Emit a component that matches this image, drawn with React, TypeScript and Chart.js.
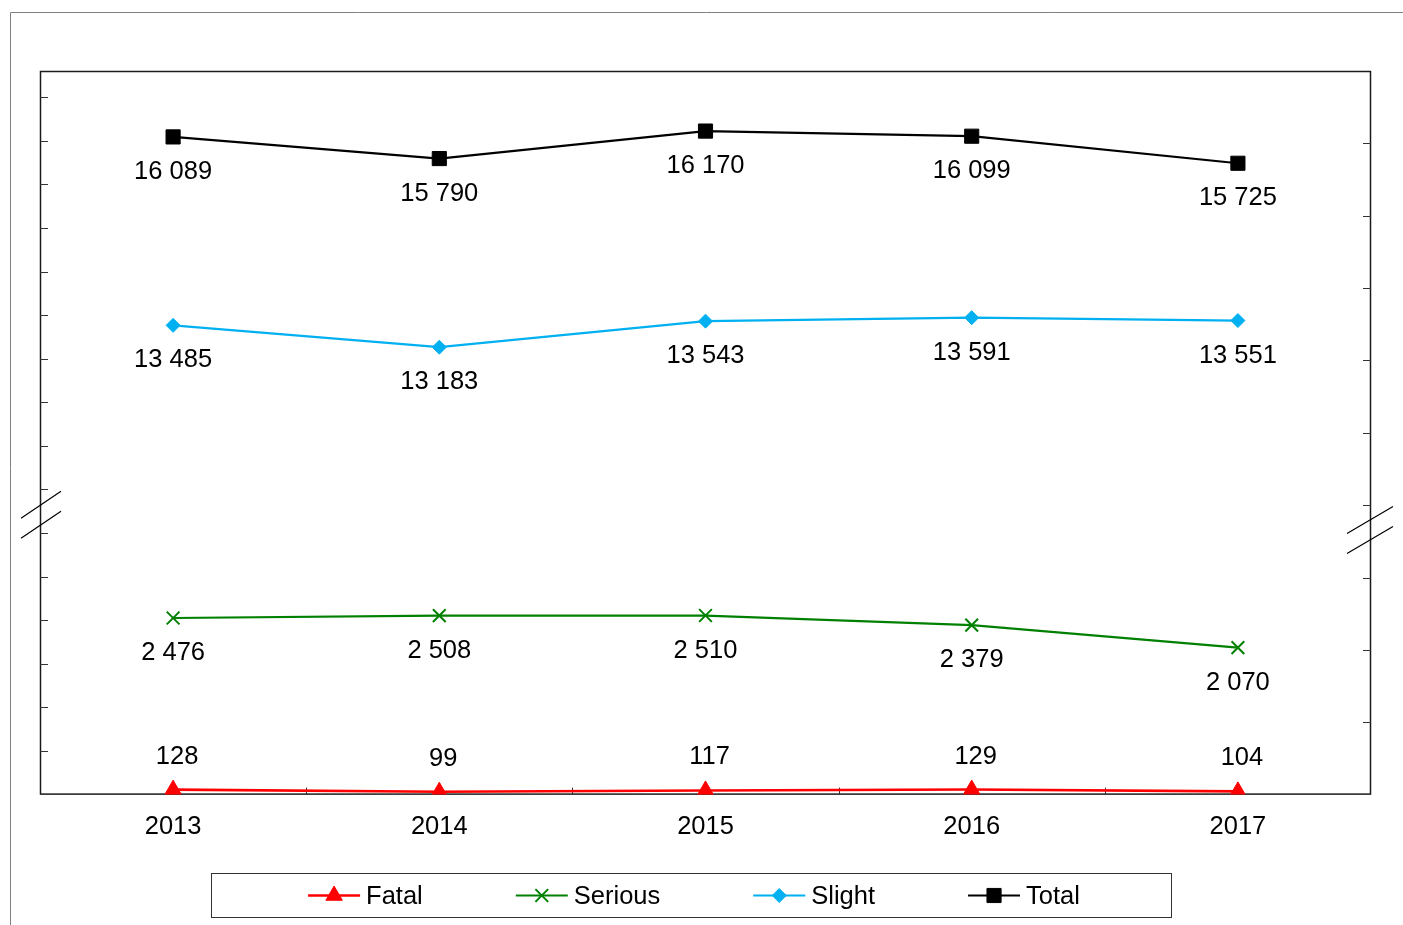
import React, { useEffect, useRef } from 'react';
import { Chart, registerables, PointElement } from 'chart.js';

Chart.register(...registerables);

const FONT = '"Liberation Sans", Arial, sans-serif';
const FONT_SIZE = 25.5;

// ---- data ----
const years = ['2013', '2014', '2015', '2016', '2017'];
const fatal = [128, 99, 117, 129, 104];
const serious = [2476, 2508, 2510, 2379, 2070];
const slight = [13485, 13183, 13543, 13591, 13551];
const total = [16089, 15790, 16170, 16099, 15725];
const seriesLabels = ['Fatal', 'Serious', 'Slight', 'Total'];

// ---- broken axis set-up (scale ranges) ----
const lowerRange = [60, 9960]; // band for Fatal / Serious
const upperRange = [7000, 17000]; // band for Slight / Total
const leftTickRange = [0, 16.6];
const leftTickValues = [1, 2, 3, 4, 5, 6, 7, 8, 9, 10, 11, 12, 13, 14, 15, 16];
const rightTickValues = [8000, 9000, 10000, 11000, 12000, 13000, 14000, 15000, 16000];
const breakLeftValue = 10860;
const breakRightValue = 10665;

const fmt = (v: number) => String(v).replace(/\B(?=(\d{3})+(?!\d))/g, ' ');

const decorPlugin = {
  id: 'decor',
  beforeDatasetsDraw(chart: any) {
    const { ctx, chartArea: a, width, height } = chart;
    ctx.save();
    // outer frame
    ctx.strokeStyle = '#808080';
    ctx.lineWidth = 1;
    ctx.beginPath();
    ctx.moveTo(10.5, height);
    ctx.lineTo(10.5, 12.5);
    ctx.lineTo(width, 12.5);
    ctx.stroke();
    // plot border
    ctx.strokeStyle = '#1a1a1a';
    ctx.lineWidth = 1.5;
    ctx.strokeRect(a.left + 0.5, a.top + 0.5, a.right - a.left - 1, a.bottom - a.top - 1);
    // inward tick marks
    ctx.lineWidth = 1;
    ctx.strokeStyle = '#333';
    const yL = chart.scales.yL;
    const yU = chart.scales.yUp;
    const xs = chart.scales.x;
    ctx.beginPath();
    leftTickValues.forEach((v) => {
      const y = Math.round(yL.getPixelForValue(v)) + 0.5;
      ctx.moveTo(a.left, y);
      ctx.lineTo(a.left + 8, y);
    });
    rightTickValues.forEach((v) => {
      const y = Math.round(yU.getPixelForValue(v)) + 0.5;
      ctx.moveTo(a.right - 8, y);
      ctx.lineTo(a.right, y);
    });
    for (let i = 0; i < years.length - 1; i++) {
      const x = Math.round((xs.getPixelForValue(i) + xs.getPixelForValue(i + 1)) / 2) + 0.5;
      ctx.moveTo(x, a.bottom);
      ctx.lineTo(x, a.bottom - 7);
    }
    ctx.stroke();
    ctx.restore();
  },
  afterDatasetsDraw(chart: any) {
    const { ctx } = chart;
    ctx.save();
    ctx.font = `${FONT_SIZE}px ${FONT}`;
    ctx.fillStyle = '#000';
    ctx.textAlign = 'center';
    ctx.textBaseline = 'middle';
    chart.data.datasets.forEach((ds: any, di: number) => {
      const meta = chart.getDatasetMeta(di);
      const above = ds.label === 'Fatal';
      meta.data.forEach((pt: any, j: number) => {
        const v = ds.rawValues[j];
        const x = pt.x + (above ? 4 : 0);
        const y = pt.y + (above ? -33 : 35);
        ctx.fillText(fmt(v), x, y);
      });
    });
    ctx.restore();
  },
  afterDraw(chart: any) {
    const { ctx, chartArea: a } = chart;
    const yU = chart.scales.yUp;
    ctx.save();
    // axis break marks
    ctx.strokeStyle = '#000';
    ctx.lineWidth = 1.2;
    const yl = yU.getPixelForValue(breakLeftValue);
    const yr = yU.getPixelForValue(breakRightValue);
    ctx.beginPath();
    [-10, 10].forEach((off) => {
      ctx.moveTo(a.left - 19, yl + off + 13);
      ctx.lineTo(a.left + 21, yl + off - 14);
      ctx.moveTo(a.right - 24, yr + off + 14);
      ctx.lineTo(a.right + 22, yr + off - 13);
    });
    ctx.stroke();

    // legend
    const box = { left: 211.5, top: 873.5, width: 960, height: 44 };
    ctx.strokeStyle = '#333';
    ctx.lineWidth = 1;
    ctx.strokeRect(box.left, box.top, box.width, box.height);
    ctx.font = `${FONT_SIZE}px ${FONT}`;
    ctx.textBaseline = 'middle';
    ctx.textAlign = 'left';
    const lineLen = 52;
    const textGap = 6;
    const itemGap = 93;
    const widths = chart.data.datasets.map((ds: any) => lineLen + textGap + ctx.measureText(ds.label).width);
    const totalW = widths.reduce((s: number, w: number) => s + w, 0) + itemGap * (widths.length - 1);
    let x = 694 - totalW / 2;
    const cy = box.top + box.height / 2;
    chart.data.datasets.forEach((ds: any, di: number) => {
      const meta = chart.getDatasetMeta(di);
      ctx.strokeStyle = ds.borderColor;
      ctx.lineWidth = ds.borderWidth;
      ctx.beginPath();
      ctx.moveTo(x, cy);
      ctx.lineTo(x + lineLen, cy);
      ctx.stroke();
      const opts = meta.data[0].options;
      const p = new (PointElement as any)({ x: x + lineLen / 2, y: cy, options: opts });
      p.draw(ctx);
      ctx.fillStyle = '#000';
      ctx.fillText(ds.label, x + lineLen + textGap, cy + 1);
      x += widths[di] + itemGap;
    });
    ctx.restore();
  },
};

export default function App() {
  const ref = useRef<HTMLCanvasElement | null>(null);

  useEffect(() => {
    if (!ref.current) return;
    const mk = (label: string, data: number[], color: string, axis: string, style: string, radius: number, width: number, pbw: number) => ({
      label,
      data,
      rawValues: data,
      yAxisID: axis,
      borderColor: color,
      backgroundColor: color,
      borderWidth: width,
      pointStyle: style,
      pointRadius: radius,
      pointBorderWidth: pbw,
      pointBackgroundColor: color,
      pointBorderColor: color,
      tension: 0,
      fill: false,
    });
    const chart = new Chart(ref.current, {
      type: 'line',
      data: {
        labels: years,
        datasets: [
          mk(seriesLabels[0], fatal, '#FF0000', 'yLow', 'triangle', 9.5, 2.6, 1),
          mk(seriesLabels[1], serious, '#008000', 'yLow', 'crossRot', 9, 2.2, 2),
          mk(seriesLabels[2], slight, '#00B0F0', 'yUp', 'rectRot', 7, 2.2, 1),
          mk(seriesLabels[3], total, '#000000', 'yUp', 'rect', 10, 2.2, 1),
        ] as any,
      },
      options: {
        responsive: false,
        animation: false,
        devicePixelRatio: 1,
        layout: { padding: { left: 40, top: 71, right: 32, bottom: 65.8 } },
        plugins: { legend: { display: false }, tooltip: { enabled: false } },
        scales: {
          x: {
            type: 'category',
            offset: true,
            grid: { display: false, drawTicks: false },
            border: { display: false },
            ticks: {
              color: '#000',
              font: { family: FONT, size: FONT_SIZE },
              padding: 17,
              maxRotation: 0,
              autoSkip: false,
            },
          },
          yLow: { type: 'linear', display: false, min: lowerRange[0], max: lowerRange[1] },
          yUp: { type: 'linear', display: false, min: upperRange[0], max: upperRange[1] },
          yL: { type: 'linear', display: false, min: leftTickRange[0], max: leftTickRange[1] },
        },
      } as any,
      plugins: [decorPlugin],
    });
    return () => chart.destroy();
  }, []);

  return (
    <div style={{ position: 'absolute', left: 0, top: 0, width: 1403, height: 925, background: '#fff' }}>
      <canvas ref={ref} width={1403} height={925} style={{ display: 'block' }} />
    </div>
  );
}
